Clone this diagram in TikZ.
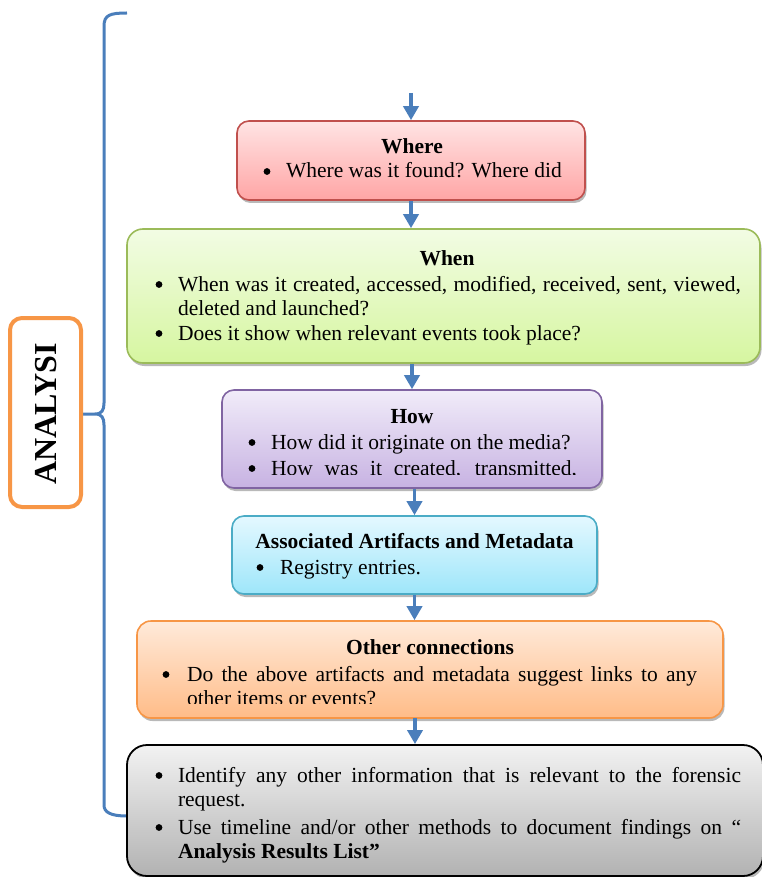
\documentclass[tikz,border=0pt]{standalone}
\usepackage{fontspec}
\setmainfont{Liberation Serif}
\usetikzlibrary{arrows.meta,shadows}
\definecolor{arrowblue}{HTML}{4A7EBB}
\definecolor{redb}{HTML}{C0504D}
\definecolor{greenb}{HTML}{9BBB59}
\definecolor{purpleb}{HTML}{8064A2}
\definecolor{aquab}{HTML}{4BACC6}
\definecolor{orangeb}{HTML}{F79646}
\definecolor{redT}{RGB}{255,228,228}\definecolor{redB}{RGB}{255,165,165}
\definecolor{greenT}{RGB}{242,252,228}\definecolor{greenB}{RGB}{214,246,160}
\definecolor{purpleT}{RGB}{241,236,249}\definecolor{purpleB}{RGB}{199,178,226}
\definecolor{aquaT}{RGB}{228,248,255}\definecolor{aquaB}{RGB}{158,230,250}
\definecolor{orangeT}{RGB}{255,234,218}\definecolor{orangeB}{RGB}{255,188,136}
\definecolor{grayT}{RGB}{242,242,242}\definecolor{grayB}{RGB}{178,178,178}
\tikzset{
  box/.style={rectangle, rounded corners=12pt, inner sep=0pt, line width=1.6pt,
    drop shadow={shadow xshift=1.5pt, shadow yshift=-3pt, fill=black!55, opacity=0.5}},
  txt/.style={inner sep=0pt, outer sep=0pt, anchor=base west, font=\fontsize{21.5}{24.7}\selectfont},
  ttl/.style={inner sep=0pt, outer sep=0pt, anchor=base, font=\fontsize{21.5}{24.7}\selectfont\bfseries},
  bul/.style={circle, fill=black, inner sep=0pt, minimum size=6.8pt, yshift=6.5pt},
  flow/.style={draw=arrowblue, line width=3.5pt, -{Triangle[width=15pt,length=14pt]}},
}
\begin{document}
\begin{tikzpicture}[x=1pt,y=-1pt]
\useasboundingbox (0,0) rectangle (761,877);

% bracket
\draw[arrowblue, line width=3pt]
  (127,13) .. controls (110,13) and (104,15) .. (104,26) -- (104,403)
  .. controls (104,410) and (102,414) .. (95,414) -- (83,414)
  (95,414) .. controls (102,414) and (104,418) .. (104,425) -- (104,805)
  .. controls (104,812) and (110,816) .. (127,816);

% ANALYSI label
\node[rectangle, rounded corners=12pt, draw=orangeb, fill=white, line width=4pt,
  minimum width=71pt, minimum height=189pt, inner sep=0pt] (label) at (45.5,412.5) {};
\node[rotate=90, inner sep=0pt, font=\fontsize{32}{36}\selectfont\bfseries] (labeltxt) at (46,414) {ANALYSI};

% boxes
\node[box, draw=redb, top color=redT, bottom color=redB, minimum width=348pt, minimum height=79pt] (where) at (411,160.5) {};
\node[box, draw=greenb, top color=greenT, bottom color=greenB, minimum width=633pt, minimum height=134pt, rounded corners=16pt] (when) at (443.5,296) {};
\node[box, draw=purpleb, top color=purpleT, bottom color=purpleB, minimum width=380pt, minimum height=98pt] (how) at (412,439) {};
\node[box, draw=aquab, top color=aquaT, bottom color=aquaB, minimum width=365pt, minimum height=78pt] (assoc) at (414.5,555) {};
\node[box, draw=orangeb, top color=orangeT, bottom color=orangeB, minimum width=586pt, minimum height=97pt, rounded corners=14pt] (other) at (430,669.5) {};
\node[box, draw=black, top color=grayT, bottom color=grayB, minimum width=636pt, minimum height=131pt, rounded corners=20pt, line width=1.8pt] (gray) at (445,810.5) {};

% arrows
\coordinate (start) at (411,93);
\draw[flow] (start) -- (where.north);
\draw[flow] (where.south) -- (where.south |- when.north);
\draw[flow] (how.north |- when.south) -- (how.north);
\draw[flow] (assoc.north |- how.south) -- (assoc.north);
\draw[flow] (assoc.south) -- (assoc.south |- other.north);
\coordinate (og) at (415,718);
\draw[flow] (og) -- (og |- gray.north);

% Where text
\node[ttl] (whereT) at (412,154) {Where};
\node[bul] (whereB1) at (267,178) {};
\node[txt] (whereL1) at (286,178) {Where was it found? Where did};

% When text
\node[ttl] (whenT) at (447,265) {When};
\node[bul] (whenB1) at (159,291) {};
\node[txt] (whenL1) at (178,291) {\makebox[563pt][s]{When was it created, accessed, modified, received, sent, viewed,}};
\node[txt] (whenL2) at (178,315) {deleted and launched?};
\node[bul] (whenB2) at (159,340) {};
\node[txt] (whenL3) at (178,340) {Does it show when relevant events took place?};

% How text
\node[ttl] (howT) at (412,423) {How};
\node[bul] (howB1) at (252,449) {};
\node[txt] (howL1) at (271,449) {How did it originate on the media?};
\begin{scope}
  \clip (230,455) rectangle (600,474);
  \node[bul] (howB2) at (252,475) {};
  \node[txt] (howL2) at (271,475) {\makebox[306pt][s]{How was it created, transmitted,}};
\end{scope}

% Associated text
\node[ttl] (assocT) at (414.5,548) {Associated Artifacts and Metadata};
\node[bul] (assocB1) at (260,574) {};
\node[txt] (assocL1) at (280,574) {Registry entries.};

% Other connections text
\node[ttl] (otherT) at (430,654) {Other connections};
\node[bul] (otherB1) at (166,681) {};
\node[txt] (otherL1) at (187,681) {\makebox[510pt][s]{Do the above artifacts and metadata suggest links to any}};
\begin{scope}
  \clip (150,685) rectangle (720,703);
  \node[txt] (otherL2) at (187,705) {other items or events?};
\end{scope}

% Gray box text
\node[bul] (grayB1) at (159,782) {};
\node[txt] (grayL1) at (178,782) {\makebox[563pt][s]{Identify any other information that is relevant to the forensic}};
\node[txt] (grayL2) at (178,806) {request.};
\node[bul] (grayB2) at (159,834) {};
\node[txt] (grayL3) at (178,834) {\makebox[563pt][s]{Use timeline and/or other methods to document findings on “}};
\node[txt, font=\fontsize{21.5}{24.7}\selectfont\bfseries] (grayL4) at (178,858) {Analysis Results List”};
\end{tikzpicture}
\end{document}
